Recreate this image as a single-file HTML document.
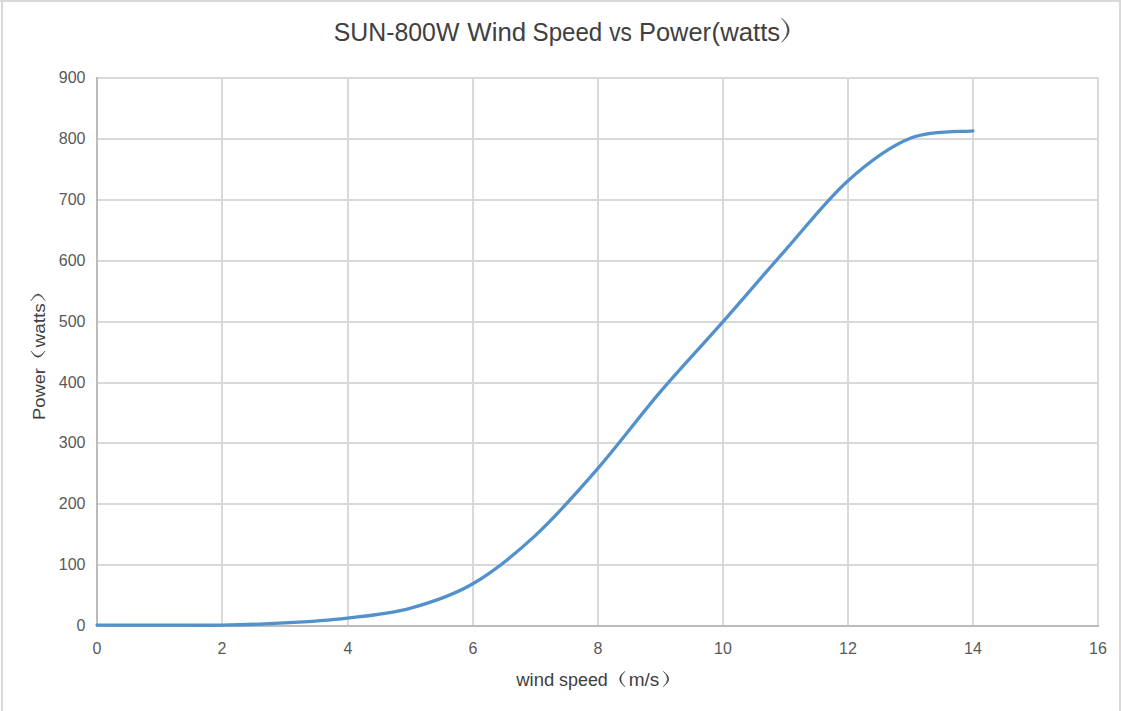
<!DOCTYPE html>
<html><head><meta charset="utf-8"><style>
html,body{margin:0;padding:0;background:#fff;width:1121px;height:711px;overflow:hidden}
svg{display:block}
text{font-family:"Liberation Sans",sans-serif}
</style></head><body>
<svg width="1121" height="711" viewBox="0 0 1121 711">
<rect x="0" y="0" width="1121" height="711" fill="#fff"/>
<rect x="0" y="0" width="1121" height="2" fill="#d9d9d9"/>
<rect x="1" y="0" width="2" height="711" fill="#d9d9d9"/>
<rect x="1119" y="0" width="2" height="711" fill="#d9d9d9"/>
<g stroke="#d9d9d9" stroke-width="2" fill="none">
<line x1="96" y1="565" x2="1099" y2="565"/>
<line x1="96" y1="504" x2="1099" y2="504"/>
<line x1="96" y1="443" x2="1099" y2="443"/>
<line x1="96" y1="383" x2="1099" y2="383"/>
<line x1="96" y1="322" x2="1099" y2="322"/>
<line x1="96" y1="261" x2="1099" y2="261"/>
<line x1="96" y1="200" x2="1099" y2="200"/>
<line x1="96" y1="139" x2="1099" y2="139"/>
<line x1="96" y1="78" x2="1099" y2="78"/>
<line x1="222" y1="77" x2="222" y2="626"/>
<line x1="348" y1="77" x2="348" y2="626"/>
<line x1="473" y1="77" x2="473" y2="626"/>
<line x1="598" y1="77" x2="598" y2="626"/>
<line x1="723" y1="77" x2="723" y2="626"/>
<line x1="848" y1="77" x2="848" y2="626"/>
<line x1="973" y1="77" x2="973" y2="626"/>
<line x1="1098" y1="77" x2="1098" y2="626"/>
</g>
<line x1="97" y1="77" x2="97" y2="627" stroke="#bcbcbc" stroke-width="2"/>
<line x1="96" y1="626" x2="1099" y2="626" stroke="#bcbcbc" stroke-width="2"/>
<path d="M97.00 625.09 C107.43 625.09 138.71 625.09 159.56 625.09 C180.42 625.09 201.27 625.44 222.12 625.09 C242.98 624.73 263.83 624.12 284.69 622.96 C305.54 621.79 326.40 620.52 347.25 618.08 C368.10 615.65 388.96 614.03 409.81 608.34 C430.67 602.66 451.52 596.06 472.38 583.99 C493.23 571.91 514.08 555.06 534.94 535.88 C555.79 516.70 576.65 492.86 597.50 468.91 C618.35 444.96 639.21 416.64 660.06 392.19 C680.92 367.73 701.77 345.81 722.62 322.16 C743.48 298.52 764.33 273.86 785.19 250.32 C806.04 226.77 826.90 199.57 847.75 180.90 C868.60 162.23 889.46 146.60 910.31 138.28 C931.17 129.96 962.45 132.19 972.88 130.97" fill="none" stroke="#5291cb" stroke-width="3.3" stroke-linecap="round" stroke-linejoin="round"/>
<g font-size="16" fill="#595959">
<text x="85.5" y="630.90" text-anchor="end">0</text>
<text x="85.5" y="569.90" text-anchor="end">100</text>
<text x="85.5" y="508.90" text-anchor="end">200</text>
<text x="85.5" y="447.90" text-anchor="end">300</text>
<text x="85.5" y="387.90" text-anchor="end">400</text>
<text x="85.5" y="326.90" text-anchor="end">500</text>
<text x="85.5" y="265.90" text-anchor="end">600</text>
<text x="85.5" y="204.90" text-anchor="end">700</text>
<text x="85.5" y="143.90" text-anchor="end">800</text>
<text x="85.5" y="82.90" text-anchor="end">900</text>
<text x="97" y="654" text-anchor="middle">0</text>
<text x="222" y="654" text-anchor="middle">2</text>
<text x="348" y="654" text-anchor="middle">4</text>
<text x="473" y="654" text-anchor="middle">6</text>
<text x="598" y="654" text-anchor="middle">8</text>
<text x="723" y="654" text-anchor="middle">10</text>
<text x="848" y="654" text-anchor="middle">12</text>
<text x="973" y="654" text-anchor="middle">14</text>
<text x="1098" y="654" text-anchor="middle">16</text>
</g>
<g fill="#404040">
<text id="t1" x="333.79" y="41.00" font-size="25.00" textLength="125.60" lengthAdjust="spacingAndGlyphs">SUN-800W</text>
<text id="t2" x="467.39" y="41.00" font-size="25.00" textLength="58.84" lengthAdjust="spacingAndGlyphs">Wind</text>
<text id="t3" x="532.57" y="41.00" font-size="25.00" textLength="69.67" lengthAdjust="spacingAndGlyphs">Speed</text>
<text id="t4" x="609.20" y="41.00" font-size="25.00" textLength="22.60" lengthAdjust="spacingAndGlyphs">vs</text>
<text id="t5" x="638.98" y="41.00" font-size="25.00" textLength="72.04" lengthAdjust="spacingAndGlyphs">Power</text>
<text id="t6" x="711.59" y="41.00" font-size="25.00" textLength="68.63" lengthAdjust="spacingAndGlyphs">(watts</text>
<text id="x1" x="516.20" y="686.00" font-size="18.00" textLength="38.01" lengthAdjust="spacingAndGlyphs">wind</text>
<text id="x2" x="558.99" y="686.00" font-size="18.00" textLength="48.85" lengthAdjust="spacingAndGlyphs">speed</text>
<text id="x3" x="628.68" y="686.00" font-size="18.00" textLength="30.62" lengthAdjust="spacingAndGlyphs">m/s</text>
<g transform="translate(45,418.5) rotate(-90)">
<text id="y1" x="-1.46" y="0.00" font-size="17.00" textLength="51.88" lengthAdjust="spacingAndGlyphs">Power</text>
<text id="y2" x="70.98" y="0.00" font-size="17.00" textLength="44.41" lengthAdjust="spacingAndGlyphs">watts</text>
</g>
</g>
<g fill="#404040" stroke="#404040" stroke-width="0.5" stroke-linejoin="round">
<path d="M781.6 18.2 Q796.8 30.2 781.6 42.4 Q793.6 30.2 781.6 18.2Z"/>
<path d="M625 671.3 Q614.2 679 625 686.7 Q616.8 679 625 671.3Z"/>
<path d="M663.3 671.3 Q674.2 679 663.3 686.7 Q671.6 679 663.3 671.3Z"/>
<path d="M30.9 350.9 Q38 363.6 45.1 350.9 Q38 361 30.9 350.9Z"/>
<path d="M30.9 300.8 Q38 287 45.1 300.8 Q38 289.6 30.9 300.8Z"/>
</g>
</svg>
</body></html>
